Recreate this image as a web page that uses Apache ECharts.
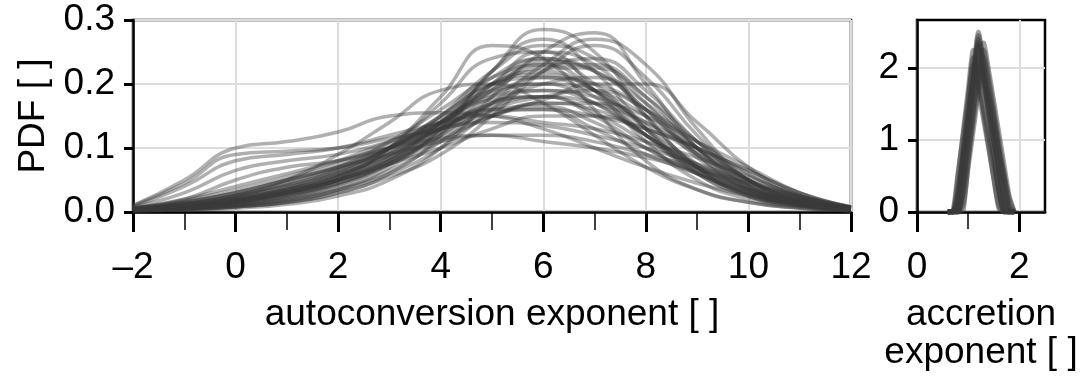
<!DOCTYPE html>
<html>
<head>
<meta charset="utf-8">
<script src="https://cdn.jsdelivr.net/npm/echarts@6/dist/echarts.min.js"></script>
<style>
  html, body { margin: 0; padding: 0; background: #fff; }
  #chart { width: 1082px; height: 378px; }
</style>
</head>
<body>
<div id="chart"></div>
<script>
// autoconversion exponent: sample points shared by all curves
var autoX = [-2, -1, 0, 1, 2, 3, 4, 5, 6, 7, 8, 9, 10, 11, 12];
var autoCurves = [
  [0.002,0.004,0.008,0.015,0.03,0.06,0.12,0.22,0.27,0.22,0.13,0.06,0.025,0.01,0.004],
  [0.002,0.003,0.006,0.012,0.025,0.05,0.1,0.18,0.25,0.28,0.2,0.1,0.04,0.015,0.005],
  [0.01,0.05,0.1,0.11,0.125,0.15,0.155,0.15,0.13,0.1,0.07,0.045,0.025,0.012,0.005],
  [0.008,0.04,0.08,0.09,0.1,0.12,0.14,0.16,0.16,0.13,0.09,0.06,0.035,0.018,0.006],
  [0.005,0.015,0.03,0.05,0.07,0.09,0.11,0.12,0.12,0.11,0.09,0.07,0.045,0.022,0.007],
  [0.003,0.008,0.016,0.03,0.05,0.085,0.14,0.2,0.22,0.19,0.13,0.07,0.03,0.012,0.004],
  [0.003,0.006,0.012,0.025,0.05,0.1,0.18,0.26,0.24,0.16,0.08,0.035,0.015,0.006,0.002],
  [0.002,0.004,0.008,0.015,0.03,0.055,0.09,0.15,0.22,0.26,0.21,0.12,0.05,0.018,0.005],
  [0.004,0.012,0.025,0.04,0.06,0.09,0.13,0.17,0.19,0.18,0.14,0.09,0.05,0.022,0.007],
  [0.004,0.01,0.02,0.035,0.055,0.085,0.125,0.18,0.21,0.2,0.16,0.1,0.05,0.02,0.006],
  [0.003,0.008,0.018,0.03,0.05,0.075,0.1,0.13,0.15,0.15,0.13,0.1,0.065,0.03,0.008],
  [0.002,0.005,0.01,0.02,0.04,0.075,0.13,0.2,0.25,0.23,0.15,0.07,0.028,0.01,0.003],
  [0.004,0.01,0.025,0.05,0.09,0.14,0.19,0.2,0.17,0.12,0.07,0.035,0.015,0.006,0.002],
  [0.006,0.02,0.05,0.07,0.08,0.1,0.13,0.17,0.18,0.15,0.1,0.06,0.03,0.012,0.004],
  [0.003,0.007,0.014,0.027,0.045,0.075,0.12,0.17,0.2,0.21,0.17,0.1,0.045,0.016,0.005],
  [0.006,0.02,0.04,0.06,0.08,0.1,0.115,0.12,0.11,0.1,0.085,0.065,0.045,0.025,0.008],
  [0.002,0.004,0.008,0.016,0.035,0.07,0.13,0.22,0.285,0.25,0.15,0.07,0.025,0.008,0.002],
  [0.005,0.015,0.03,0.05,0.07,0.1,0.14,0.18,0.19,0.17,0.12,0.07,0.035,0.015,0.005],
  [0.003,0.008,0.016,0.03,0.05,0.08,0.12,0.16,0.18,0.19,0.16,0.11,0.06,0.025,0.007],
  [0.01,0.045,0.09,0.095,0.1,0.115,0.13,0.15,0.17,0.16,0.12,0.07,0.035,0.015,0.005],
  [0.004,0.012,0.025,0.045,0.07,0.11,0.16,0.21,0.23,0.19,0.12,0.06,0.025,0.01,0.003],
  [0.002,0.005,0.01,0.02,0.035,0.06,0.1,0.16,0.22,0.24,0.19,0.11,0.05,0.02,0.006],
  [0.003,0.008,0.018,0.035,0.06,0.1,0.15,0.2,0.21,0.18,0.12,0.065,0.03,0.012,0.004],
  [0.005,0.012,0.022,0.035,0.05,0.075,0.11,0.15,0.17,0.17,0.15,0.11,0.07,0.03,0.008],
  [0.003,0.007,0.015,0.03,0.055,0.095,0.15,0.22,0.26,0.24,0.17,0.09,0.035,0.012,0.004],
  [0.004,0.01,0.02,0.038,0.065,0.1,0.145,0.185,0.2,0.19,0.15,0.095,0.05,0.02,0.006],
  [0.008,0.03,0.065,0.08,0.09,0.11,0.135,0.16,0.165,0.14,0.1,0.06,0.03,0.012,0.004],
  [0.003,0.006,0.012,0.024,0.045,0.08,0.135,0.2,0.24,0.22,0.16,0.09,0.04,0.014,0.004],
  [0.004,0.01,0.02,0.035,0.06,0.095,0.14,0.19,0.225,0.225,0.18,0.11,0.05,0.018,0.005],
  [0.005,0.013,0.026,0.045,0.07,0.1,0.13,0.155,0.16,0.15,0.13,0.1,0.065,0.03,0.008],
  [0.003,0.007,0.014,0.026,0.045,0.08,0.14,0.21,0.24,0.2,0.13,0.065,0.028,0.01,0.003],
  [0.002,0.004,0.009,0.018,0.035,0.065,0.11,0.17,0.23,0.27,0.23,0.13,0.05,0.016,0.004],
  [0.004,0.009,0.018,0.032,0.055,0.09,0.14,0.19,0.2,0.17,0.12,0.075,0.04,0.018,0.005],
  [0.006,0.016,0.03,0.05,0.075,0.105,0.13,0.14,0.135,0.12,0.1,0.075,0.048,0.024,0.007],
  [0.003,0.007,0.015,0.03,0.055,0.1,0.17,0.24,0.25,0.19,0.11,0.05,0.02,0.007,0.002],
  [0.003,0.008,0.016,0.03,0.05,0.08,0.115,0.15,0.175,0.2,0.2,0.14,0.07,0.025,0.006],
  [0.005,0.013,0.025,0.042,0.065,0.1,0.14,0.175,0.18,0.155,0.11,0.07,0.038,0.017,0.005],
  [0.004,0.01,0.02,0.035,0.058,0.09,0.13,0.165,0.18,0.17,0.14,0.1,0.058,0.025,0.007],
  [0.002,0.005,0.011,0.022,0.042,0.075,0.125,0.19,0.235,0.22,0.16,0.085,0.035,0.012,0.003],
  [0.006,0.018,0.035,0.055,0.08,0.11,0.14,0.15,0.14,0.13,0.11,0.085,0.055,0.025,0.007],
  [0.003,0.007,0.015,0.028,0.05,0.085,0.135,0.195,0.23,0.23,0.18,0.1,0.042,0.014,0.004],
  [0.004,0.011,0.022,0.04,0.065,0.1,0.15,0.2,0.215,0.19,0.135,0.075,0.034,0.013,0.004]
];

// accretion exponent
var accrX = [0.6, 0.7, 0.8, 0.9, 1.0, 1.1, 1.2, 1.3, 1.4, 1.5, 1.6, 1.7, 1.8, 1.9];
var accrCurves = [
  [0,0,0.48,1.09,1.69,2.25,1.84,1.38,0.92,0.46,0.05,0,0,0],
  [0,0,0.12,0.73,1.34,1.94,2.5,2.04,1.53,1.02,0.51,0.03,0,0],
  [0,0,0,0.26,0.77,1.28,1.79,2.25,1.86,1.42,0.97,0.53,0.09,0],
  [0,0,0,0.02,0.7,1.4,2.05,1.78,1.46,1.15,0.83,0.51,0.19,0],
  [0,0,0.24,0.73,1.22,1.71,2.15,1.8,1.4,1.0,0.6,0.2,0,0],
  [0,0,0.01,0.61,1.22,1.84,2.4,1.9,1.36,0.82,0.27,0,0,0],
  [0,0,0,0.28,0.97,1.66,2.3,1.85,1.62,1.3,0.8,0.35,0.02,0],
  [0,0.01,0.53,1.05,1.58,2.05,1.7,1.29,0.89,0.48,0.08,0,0,0],
  [0,0,0.01,0.48,0.96,1.44,1.92,2.35,1.96,1.53,1.09,0.65,0.22,0],
  [0,0,0.21,0.75,1.28,1.82,2.3,1.9,1.45,0.99,0.54,0.09,0,0],
  [0,0,0,0.47,1.15,1.82,2.45,2.05,1.59,1.14,0.68,0.23,0,0],
  [0,0,0.14,0.83,1.51,2.15,1.82,1.44,1.06,0.68,0.3,0,0,0],
  [0,0,0,0.1,0.63,1.15,1.67,2.15,1.76,1.32,0.88,0.44,0.02,0],
  [0,0,0.31,0.83,1.36,1.88,2.35,1.88,1.36,0.83,0.31,0,0,0]
];

var autoTicks = [-2, 0, 2, 4, 6, 8, 10, 12];
var pdfTicks = [0, 0.1, 0.2, 0.3];
var accrTicks = [0, 2];
var accrPdfTicks = [0, 1, 2];

var font = "Liberation Sans";
var fs = 37;
var lineCol = "#3a3a3a";
var gridCol = "#dcdcdc";

function zip(xs, ys) {
  return ys.map(function (y, i) { return [xs[i], y]; });
}

var series = [];
autoCurves.forEach(function (c) {
  series.push({
    type: "line", xAxisIndex: 0, yAxisIndex: 0,
    data: zip(autoX, c), smooth: 0.5, showSymbol: false, silent: true,
    lineStyle: { color: lineCol, width: 3.5, opacity: 0.4 }
  });
});
accrCurves.forEach(function (c) {
  series.push({
    type: "line", xAxisIndex: 1, yAxisIndex: 1,
    data: zip(accrX, c), smooth: 0.2, showSymbol: false, silent: true,
    lineStyle: { color: lineCol, width: 5, opacity: 0.5 }
  });
});

var axisLine = { onZero: false, lineStyle: { color: "#000", width: 2.5 } };
var label = { fontFamily: font, fontSize: fs, color: "#000" };

var option = {
  animation: false,
  grid: [
    { left: 133, right: 231, top: 20, bottom: 166, show: true, borderColor: "#000", borderWidth: 2.5 },
    { left: 917, right: 37, top: 20, bottom: 166, show: true, borderColor: "#000", borderWidth: 2.5 }
  ],
  xAxis: [
    {
      type: "value", gridIndex: 0, min: -2, max: 12, interval: 2,
      name: "autoconversion exponent [ ]", nameLocation: "middle", nameGap: 84,
      nameTextStyle: label,
      axisLine: axisLine,
      axisTick: { length: 20, lineStyle: { color: "#000", width: 3 }, customValues: autoTicks },
      minorTick: { show: true, splitNumber: 2, length: 18, lineStyle: { color: "#000", width: 1.5 } },
      axisLabel: Object.assign({ margin: 37, customValues: autoTicks,
        formatter: function (v) { return v < 0 ? "\u2013" + Math.abs(v) : String(v); } }, label),
      splitLine: { show: true, lineStyle: { color: gridCol, width: 2 } }
    },
    {
      type: "value", gridIndex: 1, min: 0, max: 2.5, interval: 2,
      name: "accretion\nexponent [ ]", nameLocation: "middle", nameGap: 84,
      nameTextStyle: Object.assign({ lineHeight: 38, verticalAlign: "top" }, label),
      axisLine: axisLine,
      axisTick: { length: 20, lineStyle: { color: "#000", width: 3 }, customValues: accrTicks },
      axisLabel: Object.assign({ margin: 37, customValues: accrTicks }, label),
      splitLine: { show: true, lineStyle: { color: gridCol, width: 2 } }
    },
    {
      // minor tick at 1 on the accretion axis
      type: "value", gridIndex: 1, min: 0, max: 2.5, position: "bottom",
      axisLine: { show: false, onZero: false },
      axisTick: { length: 17, lineStyle: { color: "#000", width: 1.5 }, customValues: [1] },
      axisLabel: { show: false },
      splitLine: { show: false }
    }
  ],
  yAxis: [
    {
      type: "value", gridIndex: 0, min: 0, max: 0.3, interval: 0.1,
      name: "PDF [ ]", nameLocation: "middle", nameGap: 72,
      nameTextStyle: label,
      axisLine: axisLine,
      axisTick: { length: 9, lineStyle: { color: "#000", width: 3 }, customValues: pdfTicks },
      axisLabel: Object.assign({ margin: 18, customValues: pdfTicks,
        formatter: function (v) { return v.toFixed(1); } }, label),
      splitLine: { show: true, lineStyle: { color: gridCol, width: 2 } }
    },
    {
      type: "value", gridIndex: 1, min: 0, max: 2.67, interval: 1,
      axisLine: axisLine,
      axisTick: { length: 9, lineStyle: { color: "#000", width: 3 }, customValues: accrPdfTicks },
      axisLabel: Object.assign({ margin: 18, customValues: accrPdfTicks }, label),
      splitLine: { show: true, lineStyle: { color: gridCol, width: 2 } }
    }
  ],
  series: series
};

var myChart = echarts.init(document.getElementById("chart"));
myChart.setOption(option);
</script>
</body>
</html>
